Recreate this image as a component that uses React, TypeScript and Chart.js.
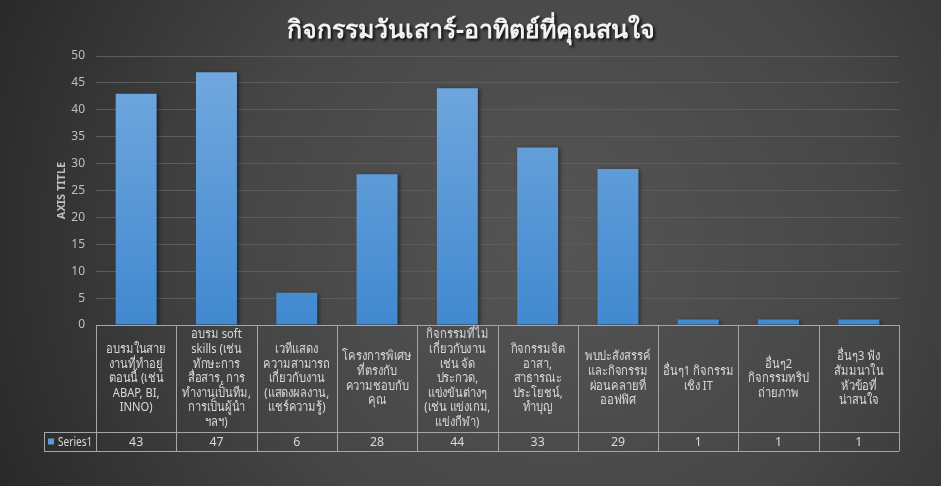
import React, { useEffect, useRef } from "react";
import { Chart, registerables } from "chart.js";

Chart.register(...registerables);

const TITLE = "กิจกรรมวันเสาร์-อาทิตย์ที่คุณสนใจ";
const AXIS_TITLE = "AXIS TITLE";
const SERIES_NAME = "Series1";

const categories: string[][] = [
  ["อบรมในสาย", "งานที่ทำอยู่", "ตอนนี้ (เช่น", "ABAP, BI,", "INNO)"],
  ["อบรม soft", "skills (เช่น", "ทักษะการ", "สื่อสาร, การ", "ทำงานเป็นทีม,", "การเป็นผู้นำ", "ฯลฯ)"],
  ["เวทีแสดง", "ความสามารถ", "เกี่ยวกับงาน", "(แสดงผลงาน,", "แชร์ความรู้)"],
  ["โครงการพิเศษ", "ที่ตรงกับ", "ความชอบกับ", "คุณ"],
  ["กิจกรรมที่ไม่", "เกี่ยวกับงาน", "เช่น จัด", "ประกวด,", "แข่งขันต่างๆ", "(เช่น แข่งเกม,", "แข่งกีฬา)"],
  ["กิจกรรมจิต", "อาสา,", "สาธารณะ", "ประโยชน์,", "ทำบุญ"],
  ["พบปะสังสรรค์", "และกิจกรรม", "ผ่อนคลายที่", "ออฟฟิศ"],
  ["อื่นๆ1 กิจกรรม", "เชิง IT"],
  ["อื่นๆ2", "กิจกรรมทริป", "ถ่ายภาพ"],
  ["อื่นๆ3 ฟัง", "สัมมนาใน", "หัวข้อที่", "น่าสนใจ"],
];

const values: number[] = [43, 47, 6, 28, 44, 33, 29, 1, 1, 1];

const Y_MIN = 0;
const Y_MAX = 50;
const Y_STEP = 5;

const FONT = "'Noto Sans', 'DejaVu Sans', sans-serif";

export default function App() {
  const ref = useRef<HTMLCanvasElement>(null);

  useEffect(() => {
    const canvas = ref.current!;
    const squeezedText = (ctx: any, text: string, x: number, y: number, sx: number) => {
      ctx.save();
      ctx.translate(x, y);
      ctx.scale(sx, 1);
      ctx.fillText(text, 0, 0);
      ctx.restore();
    };
    const bgPlugin = {
      id: "bg",
      beforeDraw(chart: any) {
        const { ctx, width, height } = chart;
        ctx.save();
        const g = ctx.createRadialGradient(560, 240, 0, 560, 240, 640);
        g.addColorStop(0, "#555555");
        g.addColorStop(0.5, "#464646");
        g.addColorStop(1, "#262626");
        ctx.fillStyle = g;
        ctx.fillRect(0, 0, width, height);
        ctx.font = "bold 25px " + FONT;
        ctx.textAlign = "center";
        ctx.textBaseline = "middle";
        ctx.shadowColor = "rgba(0,0,0,0.85)";
        ctx.shadowBlur = 3;
        ctx.shadowOffsetX = 2;
        ctx.shadowOffsetY = 2;
        ctx.fillStyle = "#f2f2f2";
        ctx.fillText(TITLE, 471, 31);
        ctx.restore();
      },
      beforeDatasetsDraw(chart: any) {
        const ctx = chart.ctx;
        ctx.save();
        ctx.shadowColor = "rgba(0,0,0,0.45)";
        ctx.shadowBlur = 4;
        ctx.shadowOffsetX = 2;
        ctx.shadowOffsetY = 1;
      },
      afterDatasetsDraw(chart: any) {
        chart.ctx.restore();
      },
      afterDraw(chart: any) {
        const { ctx, chartArea } = chart;
        const xs = chart.scales.x;
        const n = categories.length;
        const left = chartArea.left;
        const right = chartArea.right;
        const top = chartArea.bottom;
        const rowSplit = top + 107;
        const bottom = rowSplit + 19;
        const legendLeft = 44;
        const half = (xs.getPixelForValue(1) - xs.getPixelForValue(0)) / 2;
        ctx.save();
        ctx.strokeStyle = "#a6a6a6";
        ctx.lineWidth = 1;
        ctx.beginPath();
        const px = (v: number) => Math.round(v) + 0.5;
        ctx.moveTo(left, px(top));
        ctx.lineTo(right, px(top));
        ctx.moveTo(legendLeft, px(rowSplit));
        ctx.lineTo(right, px(rowSplit));
        ctx.moveTo(legendLeft, px(bottom));
        ctx.lineTo(right, px(bottom));
        ctx.moveTo(px(legendLeft), rowSplit);
        ctx.lineTo(px(legendLeft), bottom);
        for (let i = 0; i <= n; i++) {
          const x = i === 0 ? left : i === n ? right : xs.getPixelForValue(i) - half;
          ctx.moveTo(px(x), top);
          ctx.lineTo(px(x), bottom);
        }
        ctx.stroke();

        ctx.fillStyle = "#d9d9d9";
        ctx.font = "13px " + FONT;
        ctx.textAlign = "center";
        ctx.textBaseline = "middle";
        const lh = 14.6;
        const midCat = (top + rowSplit) / 2;
        const midVal = (rowSplit + bottom) / 2;
        categories.forEach((lines, i) => {
          const cx = xs.getPixelForValue(i);
          const y0 = midCat - ((lines.length - 1) * lh) / 2;
          lines.forEach((ln, j) => squeezedText(ctx, ln, cx, y0 + j * lh, 0.86));
          squeezedText(ctx, String(values[i]), cx, midVal + 1, 0.95);
        });
        ctx.fillStyle = "#5b9bd5";
        ctx.fillRect(48, midVal - 3, 6, 6);
        ctx.fillStyle = "#d9d9d9";
        ctx.textAlign = "left";
        ctx.font = "12px " + FONT;
        squeezedText(ctx, SERIES_NAME, 58, midVal + 1, 0.84);
        ctx.restore();
      },
    };

    const chart = new Chart(canvas, {
      type: "bar",
      data: {
        labels: categories.map((c) => c.join(" ")),
        datasets: [
          {
            label: SERIES_NAME,
            data: values,
            backgroundColor: (c: any) => {
              const area = c.chart.chartArea;
              if (!area) return "#5b9bd5";
              const g = c.chart.ctx.createLinearGradient(0, area.top, 0, area.bottom);
              g.addColorStop(0, "#74a9df");
              g.addColorStop(1, "#4189d0");
              return g;
            },
            borderWidth: 0,
            categoryPercentage: 1,
            barPercentage: 0.51,
          },
        ],
      },
      options: {
        animation: false,
        responsive: false,
        maintainAspectRatio: false,
        layout: { padding: { left: 55, right: 42, top: 56, bottom: 161 } },
        plugins: {
          legend: { display: false },
          title: { display: false },
          tooltip: { enabled: false },
        },
        scales: {
          x: { display: false },
          y: {
            min: Y_MIN,
            max: Y_MAX,
            ticks: {
              stepSize: Y_STEP,
              color: "#bfbfbf",
              font: { size: 12, family: FONT },
              padding: 11,
            },
            grid: { color: "#5c5c5c", drawTicks: false },
            border: { display: false },
            title: {
              display: true,
              text: AXIS_TITLE,
              color: "#bfbfbf",
              font: { size: 11, weight: "bold", family: FONT },
              padding: { top: 0, bottom: 0 },
            },
            afterFit(scale: any) {
              scale.width = 41;
            },
          },
        },
      },
      plugins: [bgPlugin],
    });
    return () => chart.destroy();
  }, []);

  return (
    <div style={{ position: "fixed", left: 0, top: 0, width: 941, height: 486 }}>
      <canvas ref={ref} width={941} height={486} style={{ width: 941, height: 486, display: "block" }} />
    </div>
  );
}
